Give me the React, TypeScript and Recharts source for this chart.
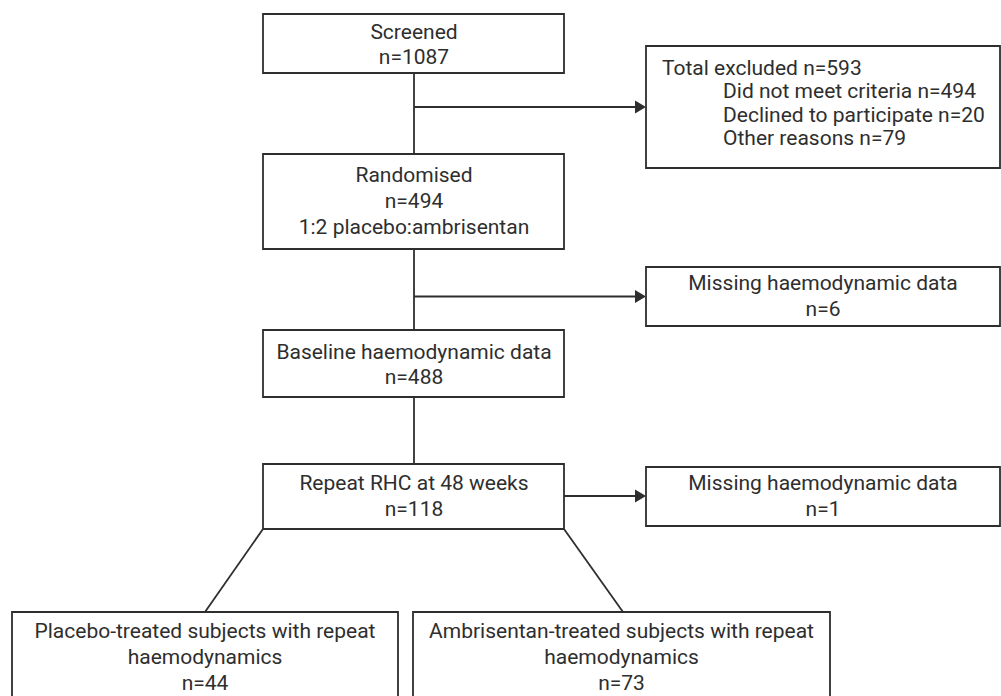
import {ReferenceArea, ReferenceLine, Scatter, ScatterChart, XAxis, YAxis} from 'recharts';

// box texts, top to bottom
const screened = ['Screened', 'n=1087'];
const randomised = ['Randomised', 'n=494', '1:2 placebo:ambrisentan'];
const baseline = ['Baseline haemodynamic data', 'n=488'];
const repeatRhc = ['Repeat RHC at 48 weeks', 'n=118'];
const excludedTitle = 'Total excluded n=593';
const excludedReasons = ['Did not meet criteria n=494', 'Declined to participate n=20', 'Other reasons n=79'];
const missingBaseline = ['Missing haemodynamic data', 'n=6'];
const missingRepeat = ['Missing haemodynamic data', 'n=1'];
const placeboArm = ['Placebo-treated subjects with repeat', 'haemodynamics', 'n=44'];
const ambrisentanArm = ['Ambrisentan-treated subjects with repeat', 'haemodynamics', 'n=73'];

// layout of the flow diagram (page pixels)
const W = 1001;
const H = 696;
const boxes = [
    {x1: 263, x2: 564, y1: 14, y2: 73},
    {x1: 646, x2: 1000, y1: 46, y2: 168},
    {x1: 263, x2: 564, y1: 154, y2: 249},
    {x1: 646, x2: 1000, y1: 267, y2: 326},
    {x1: 263, x2: 564, y1: 330, y2: 397},
    {x1: 263, x2: 564, y1: 464, y2: 529},
    {x1: 646, x2: 1000, y1: 467, y2: 526},
    {x1: 12, x2: 398, y1: 612, y2: 699},
    {x1: 413, x2: 830, y1: 612, y2: 699},
];
const connectors = [
    [{x: 414, y: 73}, {x: 414, y: 154}],
    [{x: 414, y: 249}, {x: 414, y: 330}],
    [{x: 414, y: 397}, {x: 414, y: 464}],
    [{x: 414, y: 107}, {x: 636, y: 107}],
    [{x: 414, y: 296.5}, {x: 636, y: 296.5}],
    [{x: 564, y: 496}, {x: 636, y: 496}],
    [{x: 263, y: 529}, {x: 205, y: 612}],
    [{x: 564, y: 529}, {x: 623, y: 612}],
];
const arrowTips = [
    {x: 646, y: 107},
    {x: 646, y: 296.5},
    {x: 646, y: 496},
];

const block = (lines: string[], x: number, ys: number[], anchor = 'middle') =>
    lines.map((text, i) => ({x, y: ys[i], text, anchor}));

const textData = [
    ...block(screened, 414, [39, 64]),
    ...block(randomised, 414, [182, 208, 234]),
    ...block(baseline, 414, [359, 384]),
    ...block(repeatRhc, 414, [490, 516]),
    ...block([excludedTitle], 662, [75], 'start'),
    ...block(excludedReasons, 723, [98, 122, 145], 'start'),
    ...block(missingBaseline, 823, [290, 316]),
    ...block(missingRepeat, 823, [490, 516]),
    ...block(placeboArm, 205, [638, 664, 690]),
    ...block(ambrisentanArm, 621.5, [638, 664, 690]),
];

const INK = '#2e2e2e';

const TextShape = (props: any) => (
    <text
        x={props.cx}
        y={props.cy}
        textAnchor={props.payload.anchor}
        fontFamily="Roboto, sans-serif"
        fontSize={21}
        fill={INK}
    >
        {props.payload.text}
    </text>
);

const ArrowShape = (props: any) => (
    <path
        d={`M${props.cx},${props.cy} L${props.cx - 11},${props.cy - 6.5} L${props.cx - 11},${props.cy + 6.5} Z`}
        fill={INK}
    />
);

export default function App() {
    return (
        <div style={{position: 'absolute', left: 0, top: 0, background: '#fff'}}>
            <ScatterChart width={W} height={H} margin={{top: 0, right: 0, bottom: 0, left: 0}}>
                <XAxis type="number" dataKey="x" domain={[0, W]} hide allowDataOverflow/>
                <YAxis type="number" dataKey="y" domain={[0, H]} reversed hide allowDataOverflow/>
                {boxes.map((b, i) => (
                    <ReferenceArea
                        key={'b' + i}
                        x1={b.x1}
                        x2={b.x2}
                        y1={b.y1}
                        y2={b.y2}
                        ifOverflow="visible"
                        fill="none"
                        stroke={INK}
                        strokeWidth={1.8}
                        fillOpacity={0}
                    />
                ))}
                {connectors.map((seg, i) => (
                    <ReferenceLine key={'c' + i} segment={seg} stroke={INK} strokeWidth={1.8}/>
                ))}
                <Scatter data={arrowTips} shape={ArrowShape} isAnimationActive={false}/>
                <Scatter data={textData} shape={TextShape} isAnimationActive={false}/>
            </ScatterChart>
        </div>
    );
}
